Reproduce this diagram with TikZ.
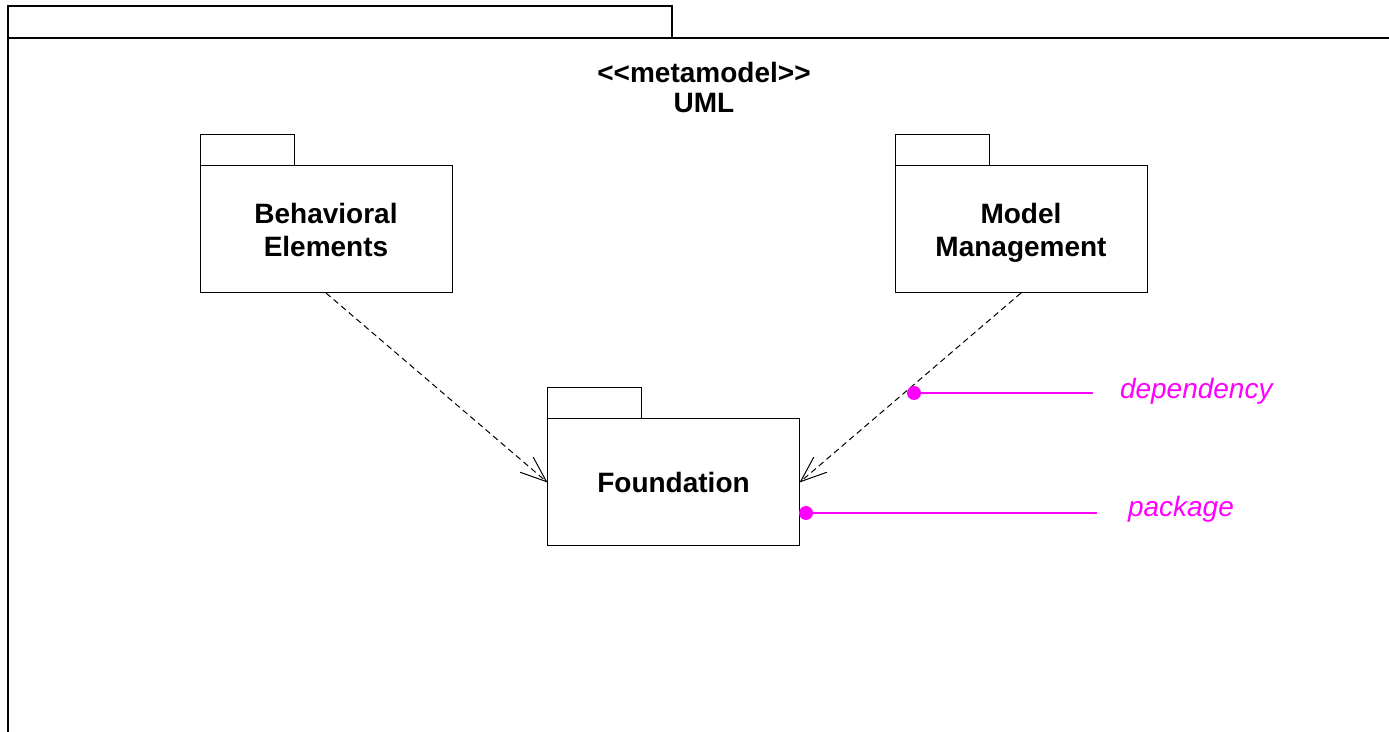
\documentclass[tikz,border=0pt]{standalone}
\usepackage{fontspec}
\setmainfont{Liberation Sans}
\usetikzlibrary{arrows.meta}
\definecolor{notemag}{RGB}{255,0,255}
\tikzstyle{every node}=[inner sep=0pt,outer sep=0pt]

\begin{document}
\begin{tikzpicture}[x=0.5pt,y=-0.5pt,line width=0.5pt]
\tikzset{pkg/.style={draw,rectangle,minimum width=126pt,minimum height=63.5pt,
  align=center,font=\fontsize{14}{16.5}\selectfont\bfseries},
  dep/.style={dash pattern=on 3pt off 2pt,
  -{Straight Barb[length=13pt,width=10pt]}},
  note/.style={text=notemag,font=\fontsize{14}{16.5}\selectfont\itshape},
  callout/.style={draw=notemag,line width=0.6pt}}
\useasboundingbox (0,0) rectangle (1389,732);

% outer package UML
\draw[line width=0.6pt] (8,6) rectangle (672,38);
\draw[line width=0.6pt] (8,740) -- (8,38) -- (1400,38);
\node[font=\fontsize{14}{15}\selectfont\bfseries,align=center] (title) at (704,87)
  {<\kern0pt<metamodel>\kern0pt>\\UML};

% inner packages
\node[pkg] (beh) at (326,229.5) {Behavioral\\Elements};
\draw (beh.north west) rectangle ++(94,-31);
\node[pkg] (mm) at (1021,229.5) {};
\node[font=\fontsize{14}{16.5}\selectfont\bfseries,align=center] (mmtxt) at (1021,233) {Model\\Management};
\draw (mm.north west) rectangle ++(94,-31);
\node[pkg] (fnd) at (673.5,482.5) {Foundation};
\draw (fnd.north west) rectangle ++(94,-31);

% dependencies
\draw[dep] (beh.south) -- (fnd.west);
\draw[dep] (mm.south) -- (fnd.east);

% notes
\coordinate (depdot) at (914,393);
\coordinate (depend) at (1093,393);
\coordinate (pkgdot) at (806,513);
\coordinate (pkgend) at (1097,513);
\node[note,anchor=base west] (deptxt) at (1120,399) {dependency};
\node[note,anchor=base west] (pkgtxt) at (1128,517) {package};
\fill[notemag] (depdot) circle (3.5pt);
\fill[notemag] (pkgdot) circle (3.5pt);
\draw[callout] (depdot) -- (depend);
\draw[callout] (pkgdot) -- (pkgend);
\end{tikzpicture}
\end{document}
